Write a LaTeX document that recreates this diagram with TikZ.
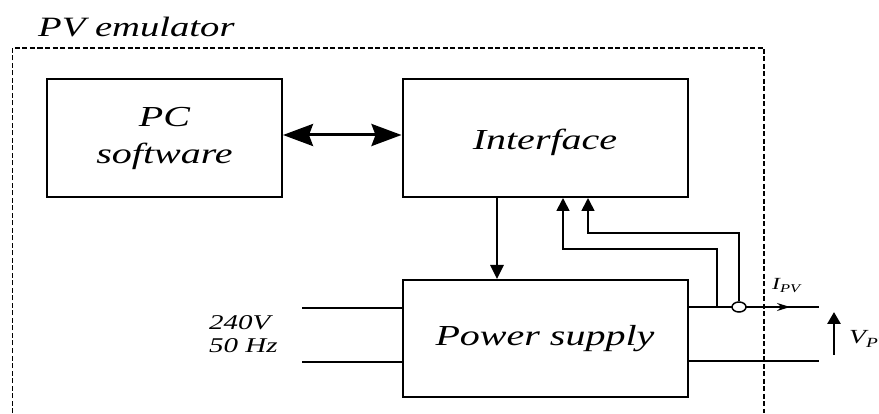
\documentclass[tikz,border=0pt]{standalone}
\usepackage{fontspec}
\setmainfont{Liberation Serif}
\newfontfamily\lbl[FakeStretch=1.38]{Liberation Serif}
\usetikzlibrary{arrows.meta,shapes.geometric}
\tikzset{
  blk/.style={draw, line width=2pt, inner sep=0pt, align=center, font=\lbl\itshape\fontsize{29}{35}\selectfont},
  wire/.style={line width=2pt},
  fb/.style={line width=1.7pt, -{Triangle[length=13pt,width=13pt]}},
  bigar/.style={line width=2.8pt, -{Triangle[length=14pt,width=13pt]}},
  dbl/.style={line width=3pt, {Stealth[length=30pt,width=22pt,inset=4pt]}-{Stealth[length=30pt,width=22pt,inset=4pt]}},
  txt/.style={inner sep=0pt, font=\lbl\itshape\fontsize{28}{34}\selectfont},
  small/.style={inner sep=0pt, align=left, font=\lbl\itshape\fontsize{21}{23}\selectfont}
}
\begin{document}
\begin{tikzpicture}[x=1pt,y=-1pt]
\useasboundingbox (0,0) rectangle (879,414);
% outer dashed frame
\draw[line width=1.5pt, dash pattern=on 5pt off 2.5pt] (12.5,413) -- (12.5,48) -- (764,48) -- (764,413);
\node[txt, anchor=base west] (title) at (38,37) {PV emulator};
% blocks
\node[blk, minimum width=235pt, minimum height=118pt] (pc) at (164.5,138) {PC\\[2pt]software};
\node[blk, minimum width=285pt, minimum height=118pt, text depth=2pt] (iface) at (545,138) {\raisebox{-4pt}{Interface}};
\node[blk, minimum width=285pt, minimum height=117pt] (ps) at (545,338.5) {\raisebox{-2pt}{Power supply}};
% PC <-> interface
\draw[dbl] ([yshift=3pt]pc.east) -- ([yshift=3pt]iface.west);
% interface -> power supply
\coordinate (d) at (497,0);
\draw[bigar] (iface.south -| d) -- (ps.north -| d);
% mains input
\coordinate (in1) at (302,308);
\coordinate (in2) at (302,362);
\draw[wire] (in1) -- (ps.west |- in1);
\draw[wire] (in2) -- (ps.west |- in2);
\node[small, anchor=west] (mains) at (209,334) {240V\\50 Hz};
% outputs
\coordinate (o1) at (819,307);
\coordinate (o2) at (819,361);
\draw[wire] (ps.east |- o1) -- (o1);
\draw[wire] (ps.east |- o2) -- (o2);
% current sensor
\node[draw, ellipse, line width=1.5pt, minimum width=14pt, minimum height=10pt, inner sep=0pt, fill=white] (ct) at (739,307) {};
\coordinate (tap) at (717,307);
\coordinate (c1) at (563,249);
\coordinate (c2) at (588,233);
\draw[fb] (tap) |- (c1) -- (c1 |- iface.south);
\draw[fb] (ct.north) |- (c2) -- (c2 |- iface.south);
% current arrow and label
\coordinate (ia) at (774,307);
\coordinate (ib) at (790,307);
\draw[line width=1.3pt, -{Stealth[length=13pt,width=8pt]}] (ia) -- (ib);
\node[inner sep=0pt, anchor=base west, font=\lbl\itshape\fontsize{17}{20}\selectfont] (ipv) at (772,290) {I\textsubscript{PV}};
% voltage arrow and label
\coordinate (vb) at (834,355);
\coordinate (vt) at (834,312);
\draw[line width=2.8pt, -{Triangle[length=12pt,width=13pt]}] (vb) -- (vt);
\node[inner sep=0pt, anchor=base west, font=\lbl\itshape\fontsize{20}{22}\selectfont] (vpv) at (849,344) {V\textsubscript{PV}};
\end{tikzpicture}
\end{document}
